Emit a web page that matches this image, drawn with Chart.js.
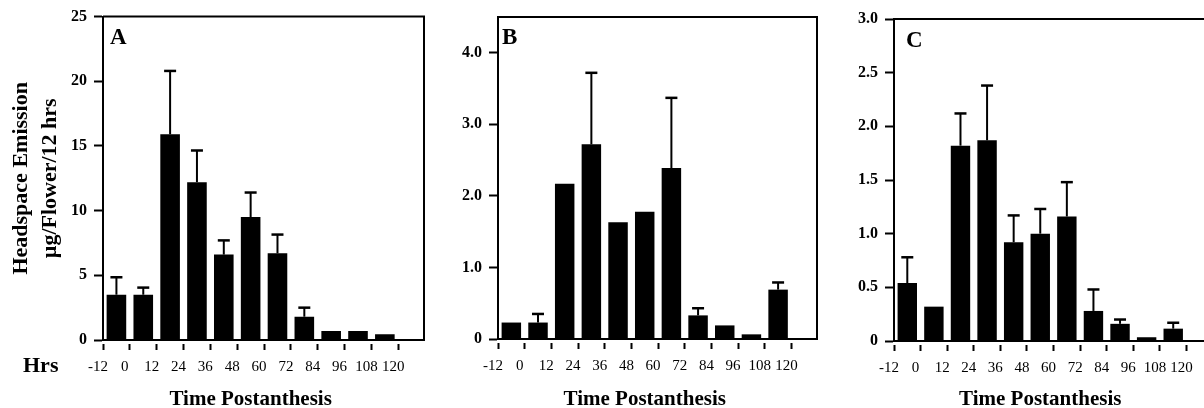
<!DOCTYPE html>
<html>
<head>
<meta charset="utf-8">
<script src="https://cdn.jsdelivr.net/npm/chart.js@4.4.0/dist/chart.umd.min.js"></script>
<style>
  html, body { margin: 0; padding: 0; background: #fff; overflow: hidden; }
  #wrap { position: relative; width: 1204px; height: 408px; overflow: hidden; }
  canvas { position: absolute; top: 0; }
</style>
</head>
<body>
<div id="wrap">
  <canvas id="panelA" width="430" height="408" style="left:0px"></canvas>
  <canvas id="panelB" width="395" height="408" style="left:430px"></canvas>
  <canvas id="panelC" width="400" height="408" style="left:825px"></canvas>
</div>
<script>
// hours postanthesis: tick marks sit on the bin edges, bars on the bin midpoints
const hrsTicks = [-12, 0, 12, 24, 36, 48, 60, 72, 84, 96, 108, 120];
const binMids = [-6, 6, 18, 30, 42, 54, 66, 78, 90, 102, 114];

// panel A
const meanA = [3.5, 3.5, 15.9, 12.2, 6.6, 9.5, 6.7, 1.8, 0.7, 0.7, 0.45];
const semA = [1.35, 0.55, 4.9, 2.45, 1.1, 1.9, 1.45, 0.7, 0, 0, 0];
const yTicksA = [0, 5, 10, 15, 20, 25];
const yLabelsA = ['0', '5', '10', '15', '20', '25'];

// panel B
const meanB = [0.23, 0.23, 2.17, 2.72, 1.63, 1.78, 2.39, 0.33, 0.19, 0.065, 0.69];
const semB = [0, 0.12, 0, 1.0, 0, 0, 0.98, 0.1, 0, 0, 0.1];
const yTicksB = [0, 1, 2, 3, 4];
const yLabelsB = ['0', '1.0', '2.0', '3.0', '4.0'];

// panel C
const meanC = [0.54, 0.32, 1.82, 1.87, 0.92, 1.0, 1.16, 0.28, 0.16, 0.035, 0.115];
const semC = [0.24, 0, 0.3, 0.51, 0.25, 0.23, 0.32, 0.2, 0.04, 0, 0.055];
const yTicksC = [0, 0.5, 1, 1.5, 2, 2.5, 3];
const yLabelsC = ['0', '0.5', '1.0', '1.5', '2.0', '2.5', '3.0'];

const yTitle = ['Headspace Emission', '\u00b5g/Flower/12 hrs'];
const xTitle = 'Time Postanthesis';

const SERIF = '"Liberation Serif", "Times New Roman", Times, serif';

// error bars, box top/right edges, panel letter and the bottom captions
const panelDecor = {
  id: 'panelDecor',
  afterDatasetsDraw(chart, args, opts) {
    const ctx = chart.ctx;
    const ys = chart.scales.y;
    ctx.save();
    ctx.strokeStyle = '#000';
    chart.getDatasetMeta(0).data.forEach((bar, i) => {
      const s = opts.sem[i];
      if (!s) return;
      const top = ys.getPixelForValue(opts.mean[i] + s);
      ctx.lineWidth = 2;
      ctx.beginPath();
      ctx.moveTo(bar.x, bar.y);
      ctx.lineTo(bar.x, top);
      ctx.stroke();
      ctx.lineWidth = 2.5;
      ctx.beginPath();
      ctx.moveTo(bar.x - 6, top);
      ctx.lineTo(bar.x + 6, top);
      ctx.stroke();
    });
    ctx.restore();
  },
  afterDraw(chart, args, opts) {
    const { ctx, chartArea: a } = chart;
    ctx.save();
    ctx.strokeStyle = '#000';
    ctx.lineWidth = 2;
    ctx.beginPath();
    ctx.moveTo(a.left, a.top);
    ctx.lineTo(a.right, a.top);
    ctx.lineTo(a.right, a.bottom);
    ctx.stroke();

    ctx.fillStyle = '#000';
    ctx.textBaseline = 'alphabetic';
    ctx.font = 'bold 23px ' + SERIF;
    ctx.textAlign = 'left';
    ctx.fillText(opts.letter, a.left + opts.letterDx, a.top + opts.letterDy);

    // caption is centred on the span of the hour ticks, not on the box
    const xs = chart.scales.x;
    const xc = (xs.getPixelForValue(hrsTicks[0]) + xs.getPixelForValue(hrsTicks[hrsTicks.length - 1])) / 2;
    ctx.font = 'bold 21px ' + SERIF;
    ctx.textAlign = 'center';
    ctx.fillText(xTitle, xc, 405);
    if (opts.hrs) {
      ctx.font = 'bold 22px ' + SERIF;
      ctx.textAlign = 'left';
      ctx.fillText('Hrs', 23, 372);
    }
    ctx.restore();
  }
};

function makePanel(id, p) {
  return new Chart(document.getElementById(id), {
    type: 'bar',
    data: {
      datasets: [{
        data: binMids.map((h, i) => ({ x: h, y: p.mean[i] })),
        backgroundColor: '#000',
        borderWidth: 0,
        categoryPercentage: 1,
        barPercentage: 0.73
      }]
    },
    options: {
      responsive: false,
      animation: false,
      events: [],
      layout: { padding: { left: 0, top: p.top, right: p.right, bottom: 0 } },
      plugins: {
        legend: { display: false },
        tooltip: { enabled: false },
        panelDecor: { letter: p.letter, letterDx: p.letterDx, letterDy: p.letterDy, mean: p.mean, sem: p.sem, hrs: p.hrs }
      },
      scales: {
        x: {
          type: 'linear',
          offset: false,
          min: -12,
          max: 131.5,
          afterBuildTicks: s => { s.ticks = hrsTicks.map(v => ({ value: v })); },
          afterFit: s => { s.height = p.xHeight; },
          ticks: {
            color: '#000',
            font: { family: SERIF, size: 15 },
            padding: 8,
            labelOffset: -5,
            maxRotation: 0,
            autoSkip: false,
            callback: v => String(v)
          },
          grid: {
            offset: false,
            drawOnChartArea: false,
            drawTicks: true,
            tickLength: 10,
            tickWidth: 2,
            tickColor: '#000',
            tickBorderDash: [0, 3, 7, 30]
          },
          border: { display: true, color: '#000', width: 2 }
        },
        y: {
          min: 0,
          max: p.yMax,
          afterBuildTicks: s => { s.ticks = p.yTicks.map(v => ({ value: v })); },
          afterFit: s => { s.width = p.yWidth; },
          ticks: {
            color: '#000',
            font: { family: SERIF, size: 16, weight: 'bold' },
            padding: 7,
            autoSkip: false,
            callback: (v, i) => p.yLabels[i]
          },
          grid: {
            drawOnChartArea: false,
            drawTicks: true,
            tickLength: 9,
            tickWidth: 2,
            tickColor: '#000'
          },
          border: { display: true, color: '#000', width: 2 },
          title: {
            display: !!p.hrs,
            text: yTitle,
            color: '#000',
            font: { family: SERIF, size: 22, weight: 'bold', lineHeight: 1.32 },
            padding: { top: 6.5, bottom: 0 }
          }
        }
      }
    },
    plugins: [panelDecor]
  });
}

makePanel('panelA', {
  mean: meanA, sem: semA, yTicks: yTicksA, yLabels: yLabelsA, yMax: 25,
  letter: 'A', letterDx: 7, letterDy: 27, hrs: true,
  top: 16, right: 6, yWidth: 103, xHeight: 68
});
makePanel('panelB', {
  mean: meanB, sem: semB, yTicks: yTicksB, yLabels: yLabelsB, yMax: 4.5,
  letter: 'B', letterDx: 4, letterDy: 27, hrs: false,
  top: 17, right: 8, yWidth: 68, xHeight: 69
});
makePanel('panelC', {
  mean: meanC, sem: semC, yTicks: yTicksC, yLabels: yLabelsC, yMax: 3,
  letter: 'C', letterDx: 12, letterDy: 28, hrs: false,
  top: 19, right: 13, yWidth: 69, xHeight: 67
});
</script>
</body>
</html>
